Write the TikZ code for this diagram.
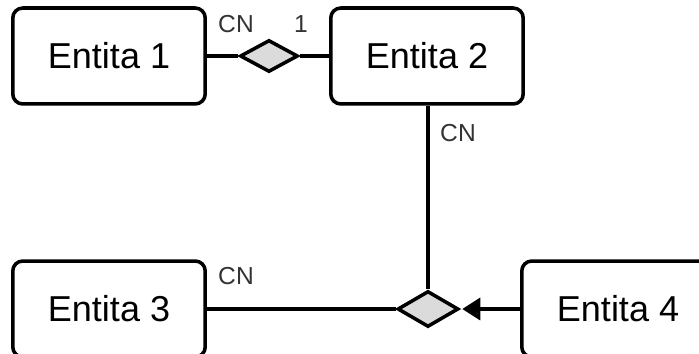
\documentclass[tikz,border=0pt]{standalone}
\usepackage{fontspec}
\setmainfont{Liberation Sans}
\usetikzlibrary{arrows.meta}
\usetikzlibrary{shapes.geometric}

\tikzset{
    entity/.style={draw, line width=2pt, rounded corners=0.2cm,
        minimum width=3.85cm, minimum height=1.92cm, inner sep=0pt,
        font=\fontsize{20.5}{24}\selectfont},
    relation/.style={diamond, draw, line width=2pt, fill=black!14,
        inner sep=0pt},
    card/.style={font=\fontsize{14}{16}\selectfont, text=black!80},
    link/.style={line width=2pt}
}

\begin{document}
\begin{tikzpicture}[x=0.02cm, y=-0.02cm]
    \clip (0,0) rectangle (699,354);              % picture frame

    \node [entity] (ent1) at (109,56) {Entita 1};  % top row
    \node [entity] (ent2) at (427,56) {Entita 2};
    \node [entity] (ent3) at (109,309) {Entita 3}; % bottom row, cut off
    \node [entity] (ent4) at (618,309) {Entita 4};

    \node [relation, minimum width=1.16cm, minimum height=0.64cm] (rel1) at (269,56) {};
    \node [relation, minimum width=1.22cm, minimum height=0.72cm] (rel2) at (428,309) {};

    \draw [link] (ent1) -- (rel1);               % first relation
    \draw [link] (rel1) -- (ent2);
    \draw [link] (ent2.south -| rel2) -- (rel2);  % second relation
    \draw [link] (ent3) -- (rel2);
    \draw [link, -{Triangle[length=0.36cm, width=0.44cm]}, shorten >=0.04cm] (ent4) -- (rel2);

    \node [card] (c1) at (236,24) {CN};          % cardinalities
    \node [card] (c2) at (301,24) {1};
    \node [card] (c3) at (458,133) {CN};
    \node [card] (c4) at (236,276) {CN};
\end{tikzpicture}
\end{document}
